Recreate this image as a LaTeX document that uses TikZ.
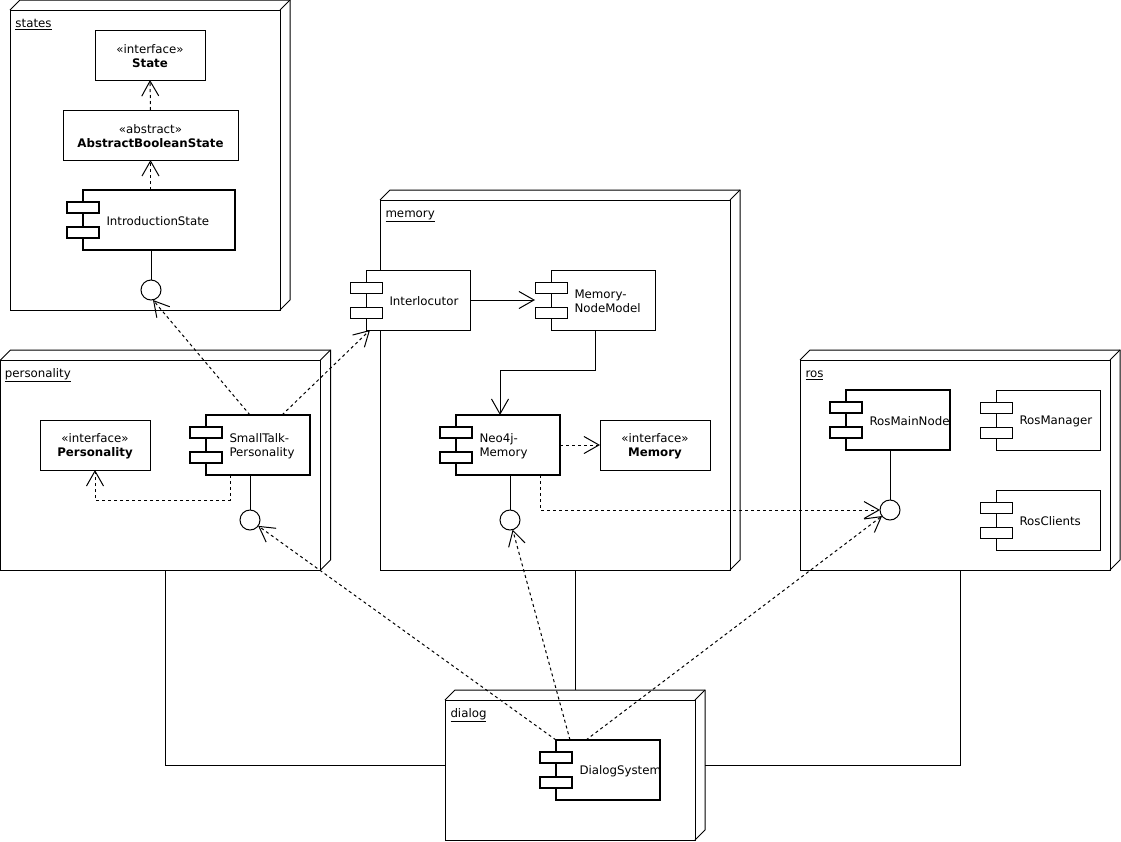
\documentclass[tikz,border=0pt]{standalone}
\usepackage{fontspec}
\setmainfont{DejaVu Sans}
\usetikzlibrary{arrows.meta,calc}
\newcommand{\umlframe}[1]{%
  \draw (#1.north west) -- ++(10,-10) -| ($(#1.south east)+(10,-10)$) -- (#1.south east);
  \draw (#1.north east) -- ++(10,-10);
}
\newcommand{\umlcomp}[7]{% name, extra style, x, y, w, h, text
  \node[comp,#2,minimum width=#5pt,minimum height=#6pt] (#1) at (#3,#4) {};
  \node[port,#2] at ($(#1.west)+(0,-12.5)$) {};
  \node[port,#2] at ($(#1.west)+(0,12.5)$) {};
  \node[ctext] at ($(#1.west)+(23,1)$) {#7};
}
\begin{document}
\begin{tikzpicture}[x=1pt,y=-1pt,line width=1pt,
  font=\fontsize{11.8pt}{14pt}\selectfont,
  frame/.style={draw,anchor=north west,inner sep=0pt,outer sep=0pt},
  cls/.style={draw,anchor=north west,inner sep=0pt,outer sep=0pt,align=center},
  comp/.style={draw,fill=white,anchor=north west,inner sep=0pt,outer sep=0pt},
  thickc/.style={line width=2pt},
  thinc/.style={},
  port/.style={draw,fill=white,minimum width=32pt,minimum height=11pt,inner sep=0pt,outer sep=0pt},
  iface/.style={circle,draw,fill=white,minimum size=20pt,inner sep=0pt,outer sep=0pt},
  ctext/.style={anchor=west,align=left,inner sep=0pt},
  clstext/.style={align=center,inner sep=0pt},
  flabel/.style={anchor=base west,inner sep=0pt},
  openhead/.style={-{Straight Barb[length=15pt,width=17pt]}},
  dep/.style={openhead,dash pattern=on 3pt off 3pt},
  assoc/.style={}
]
\useasboundingbox (0,0) rectangle (1121,841);

% ---------- frames ----------
\node[frame,minimum width=270pt,minimum height=300pt] (sn) at (10,10) {};
\umlframe{sn}
\node[flabel] (snl) at (15,27.5) {\underline{states}};

\node[frame,minimum width=350pt,minimum height=370pt] (mn) at (380,200) {};
\umlframe{mn}
\node[flabel] (mnl) at (385,217.5) {\underline{memory}};

\node[frame,minimum width=320pt,minimum height=210pt] (pn) at (0.5,360) {};
\umlframe{pn}
\node[flabel] (pnl) at (4.5,377.5) {\underline{personality}};

\node[frame,minimum width=310pt,minimum height=210pt] (rn) at (800,360) {};
\umlframe{rn}
\node[flabel] (rnl) at (805,377.5) {\underline{ros}};

\node[frame,minimum width=250pt,minimum height=140pt] (dn) at (445,700) {};
\umlframe{dn}
\node[flabel] (dnl) at (450,717.5) {\underline{dialog}};

% ---------- classes ----------
\node[cls,minimum width=110pt,minimum height=50pt] (state) at (95,30) {};
\node[clstext] at ($(state.center)+(0,1)$) {«interface»\\\textbf{State}};
\node[cls,minimum width=175pt,minimum height=50pt] (abs) at (63,110) {};
\node[clstext] at ($(abs.center)+(0,1)$) {«abstract»\\\textbf{AbstractBooleanState}};
\node[cls,minimum width=110pt,minimum height=50pt] (pers) at (40,420) {};
\node[clstext] at ($(pers.center)+(0,1)$) {«interface»\\\textbf{Personality}};
\node[cls,minimum width=110pt,minimum height=50pt] (mem) at (600,420) {};
\node[clstext] at ($(mem.center)+(0,1)$) {«interface»\\\textbf{Memory}};

% ---------- components ----------
\umlcomp{is}{thickc}{83}{190}{152}{60}{IntroductionState}
\umlcomp{inter}{thinc}{366}{270}{104}{60}{Interlocutor}
\umlcomp{nm}{thinc}{551}{270}{104}{60}{Memory-\\NodeModel}
\umlcomp{neo}{thickc}{456}{415}{104}{60}{Neo4j-\\Memory}
\umlcomp{st}{thickc}{206}{415}{104}{60}{SmallTalk-\\Personality}
\umlcomp{rmn}{thickc}{846}{390}{104}{60}{RosMainNode}
\umlcomp{rmg}{thinc}{996}{390}{104}{60}{RosManager}
\umlcomp{rcl}{thinc}{996}{490}{104}{60}{RosClients}
\umlcomp{ds}{thickc}{556}{740}{104}{60}{DialogSystem}

% ---------- provided interfaces ----------
\node[iface] (ic1) at (151,290) {};
\node[iface] (ic2) at (250,520) {};
\node[iface] (ic3) at (510,520) {};
\node[iface] (ic4) at (890,510) {};
\draw (ic1.north) -- (ic1.north |- is.south);
\draw (ic2.north) -- (ic2.north |- st.south);
\draw (ic3.north) -- (ic3.north |- neo.south);
\draw (ic4.north) -- (ic4.north |- rmn.south);

% ---------- dependencies ----------
\draw[dep] (abs.north) -- (state.south);
\draw[dep] (abs.south |- is.north) -- (abs.south);
\draw[dep] ($(st.north west)+(44,0)$) -- ($(ic1.south)+(2,0)$);
\draw[dep] ($(st.north west)+(76,0)$) -- ($(inter.south west)+(4,0)$);
\draw[dep] ($(st.south west)+(24,0)$) -- ++(0,25) -| (pers.south);
\draw[openhead] (inter.east) -- ($(nm.west)+(-16,0)$);
\draw[openhead] ($(nm.south west)+(44,0)$) -- ++(0,40) -| ($(neo.north west)+(44,0)$);
\draw[dep] (neo.east) -- (mem.west);
\draw[dep] ($(neo.south west)+(84,0)$) |- (ic4.west);
\draw[dep] (ds.north west) -- (ic2);
\draw[dep] ($(ds.north west)+(14,0)$) -- (ic3);
\draw[dep] ($(ds.north west)+(30,0)$) -- (ic4);

% ---------- associations between nodes ----------
\draw[assoc] ($(pn.south west)+(164.5,0)$) |- ($(dn.west)+(0,-5)$);
\draw[assoc] ($(mn.south west)+(195,0)$) -- ($(dn.north west)+(130,-10)$);
\draw[assoc] ($(rn.south west)+(160,0)$) |- ($(dn.east)+(10,-5)$);
\end{tikzpicture}
\end{document}
